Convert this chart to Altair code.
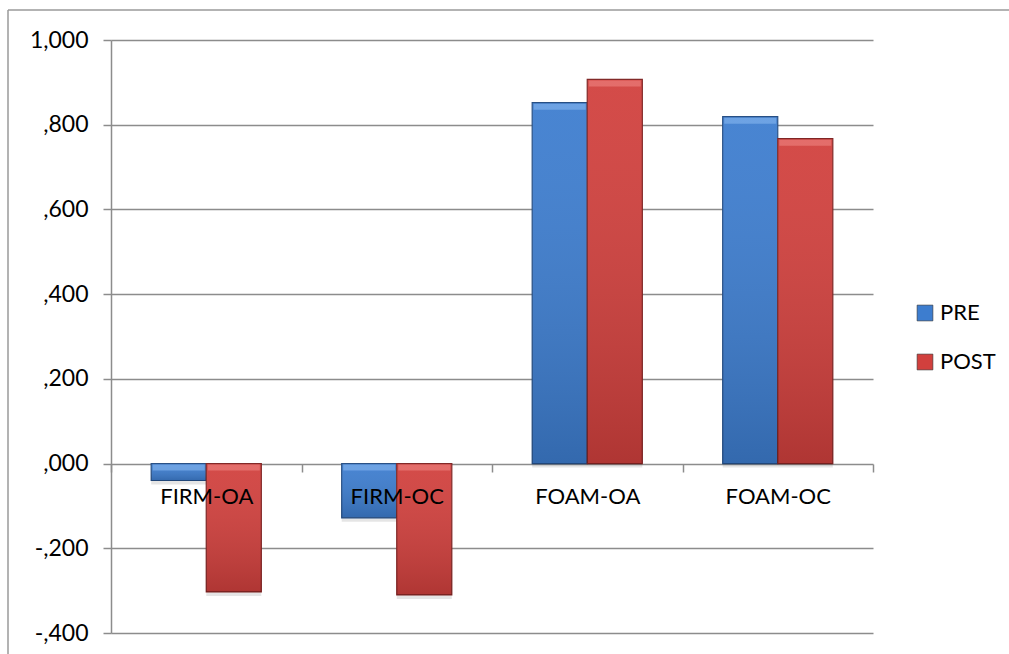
import altair as alt
import pandas as pd

# Chart data
categories = ["FIRM-OA", "FIRM-OC", "FOAM-OA", "FOAM-OC"]
series = ["PRE", "POST"]
pre_values = [-0.040, -0.128, 0.852, 0.819]
post_values = [-0.303, -0.310, 0.907, 0.767]
y_ticks = [-0.4, -0.2, 0.0, 0.2, 0.4, 0.6, 0.8, 1.0]
y_domain = [-0.4, 1.0]

fill_colors = ["#3D7DCF", "#D1403D"]
edge_colors = ["#244C82", "#7E2221"]
bevel_colors = ["#8DBBF2", "#F08A86"]

rows = []
for cat, a, b in zip(categories, pre_values, post_values):
    rows.append({"cat": cat, "series": "PRE", "value": a})
    rows.append({"cat": cat, "series": "POST", "value": b})
df = pd.DataFrame(rows)

W, H = 762, 593
FONT = "Lato"
GRID = "#8C8C8C"
# x axis sits on the zero line
zero_offset = -round(H * (0 - y_domain[0]) / (y_domain[1] - y_domain[0]))

# Excel-like number labels: 1,000  ,800  ,000  -,200
label_expr = (
    "(datum.value < 0 ? '-' : '') + "
    "(abs(datum.value) >= 1 ? format(abs(datum.value), '.0f') : '') + ',' + "
    "substring(format(abs(datum.value), '.3f'), 2)"
)

x_enc = alt.X(
    "cat:N",
    sort=categories,
    scale=alt.Scale(paddingInner=0, paddingOuter=0),
    axis=alt.Axis(
        title=None,
        orient="bottom",
        offset=zero_offset,
        zindex=2,
        tickBand="extent",
        tickSize=8,
        tickColor=GRID,
        tickWidth=1.5,
        domain=False,
        labelAngle=0,
        labelFont=FONT,
        labelFontSize=22,
        labelColor="#000000",
        labelPadding=14,
        labelBaseline="top",
        grid=False,
    ),
)
xoff_enc = alt.XOffset(
    "series:N", sort=series, scale=alt.Scale(paddingInner=0, paddingOuter=0.73)
)
y_scale = alt.Scale(domain=y_domain, nice=False, zero=False)
y_enc = alt.Y(
    "value:Q",
    scale=y_scale,
    axis=alt.Axis(
        title=None,
        values=y_ticks,
        labelExpr=label_expr,
        grid=True,
        gridColor=GRID,
        gridWidth=1.5,
        tickSize=8,
        tickColor=GRID,
        tickWidth=1.5,
        domainColor=GRID,
        domainWidth=1.5,
        labelFont=FONT,
        labelFontSize=23,
        labelColor="#000000",
        labelPadding=15,
    ),
)

base = alt.Chart(df)

shadow = base.mark_bar(
    color="#000000", opacity=0.10, xOffset=3, yOffset=4
).encode(x=x_enc, xOffset=xoff_enc, y=y_enc)

bars = base.mark_bar(strokeWidth=1.2).encode(
    x=x_enc,
    xOffset=xoff_enc,
    y=y_enc,
    color=alt.Color(
        "series:N",
        sort=series,
        scale=alt.Scale(domain=series, range=fill_colors),
        legend=alt.Legend(
            title=None,
            orient="none",
            legendX=803,
            legendY=262,
            symbolType="square",
            symbolSize=250,
            symbolStrokeColor="#333333",
            symbolStrokeWidth=0.6,
            labelFont=FONT,
            labelFontSize=22,
            labelColor="#000000",
            labelOffset=4,
            rowPadding=27,
        ),
    ),
    stroke=alt.Stroke(
        "series:N", scale=alt.Scale(domain=series, range=edge_colors), legend=None
    ),
)

shade = base.mark_bar(
    fill=alt.Gradient(
        gradient="linear",
        stops=[
            alt.GradientStop(color="rgba(255,255,255,0.06)", offset=0),
            alt.GradientStop(color="rgba(0,0,0,0.16)", offset=1),
        ],
        x1=0, x2=0, y1=0, y2=1,
    )
).encode(x=x_enc, xOffset=xoff_enc, y=y_enc)

bevel = base.transform_calculate(top="max(datum.value, 0)").mark_tick(
    thickness=6, size=52, yOffset=4, opacity=0.55
).encode(
    x=x_enc,
    xOffset=xoff_enc,
    y=alt.Y("top:Q", scale=y_scale),
    color=alt.Color(
        "series:N", scale=alt.Scale(domain=series, range=bevel_colors), legend=None
    ),
)

# Outer chart frame (left and top edges)
frame_df = pd.DataFrame({"k": [0]})
frame_left = alt.Chart(frame_df).mark_rule(color="#9A9A9A", strokeWidth=1.5).encode(
    x=alt.value(-103), y=alt.value(-30), y2=alt.value(640)
)
frame_top = alt.Chart(frame_df).mark_rule(color="#9A9A9A", strokeWidth=1.5).encode(
    x=alt.value(-103), x2=alt.value(920), y=alt.value(-30)
)

chart = (
    alt.layer(shadow, bars, shade, bevel, frame_left, frame_top)
    .resolve_scale(color="independent")
    .properties(
        width=W,
        height=H,
        autosize=alt.AutoSizeParams(type="none"),
        padding={"left": 111, "top": 40, "right": 136, "bottom": 21},
        background="#FFFFFF",
    )
    .configure_view(stroke=None)
)

chart.save("out.html", embed_options={"renderer": "svg", "actions": False})
